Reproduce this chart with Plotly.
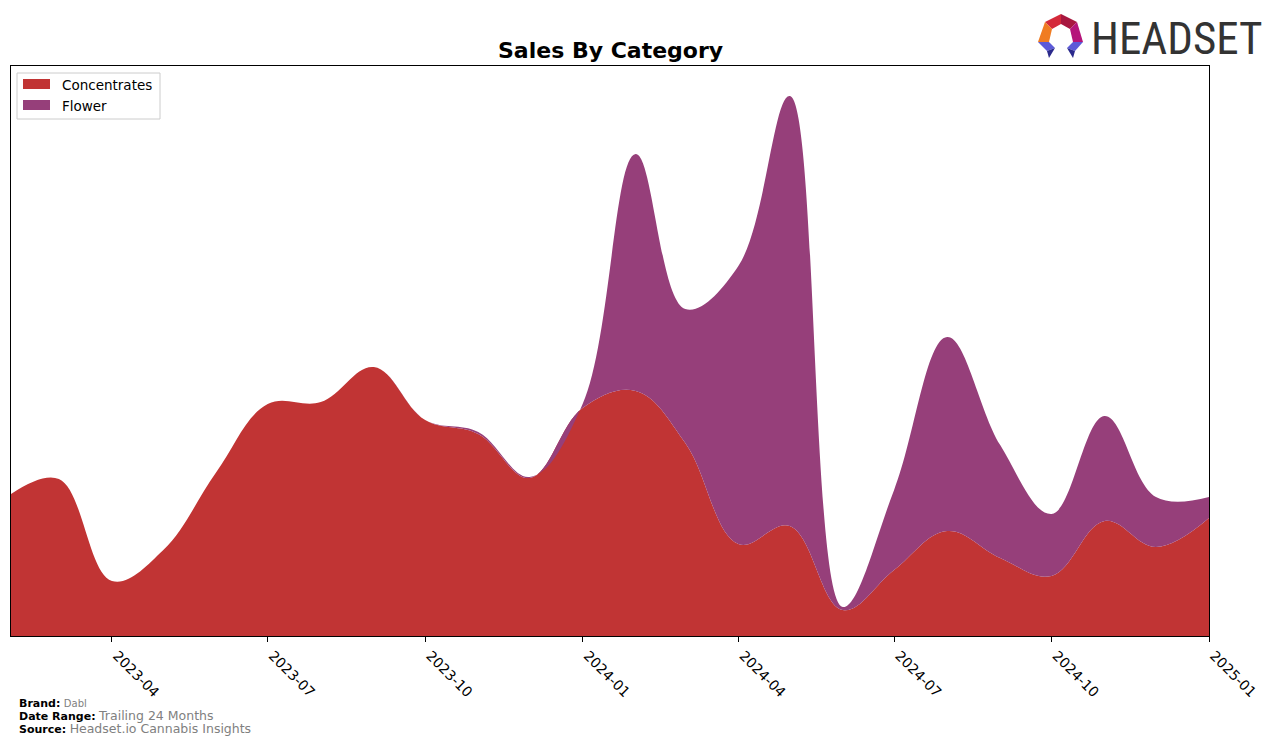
import plotly.graph_objects as go

months = ["2023-02-01", "2023-03-01", "2023-04-01", "2023-05-01", "2023-06-01", "2023-07-01",
          "2023-08-01", "2023-09-01", "2023-10-01", "2023-11-01", "2023-12-01", "2024-01-01",
          "2024-02-01", "2024-03-01", "2024-04-01", "2024-05-01", "2024-06-01", "2024-07-01",
          "2024-08-01", "2024-09-01", "2024-10-01", "2024-11-01", "2024-12-01", "2025-01-01"]
concentrates = [142, 157, 55, 86, 164, 232, 234, 269, 216, 202, 158, 228,
                245, 193, 92, 110, 26, 66, 105, 78, 60, 115, 89, 118]
flower = [0, 0, 0, 0, 0, 0, 0, 0, 0, 2, 1, 4,
          237, 134, 278, 430, 3, 80, 194, 113, 62, 105, 50, 21]
tick_vals = ["2023-04-01", "2023-07-01", "2023-10-01", "2024-01-01",
             "2024-04-01", "2024-07-01", "2024-10-01", "2025-01-01"]
tick_text = ["2023-04", "2023-07", "2023-10", "2024-01", "2024-04", "2024-07", "2024-10", "2025-01"]
series_names = ["Concentrates", "Flower"]

C_CONC = "#c13434"
C_FLOW = "#963f7a"

fig = go.Figure()
fig.add_trace(go.Scatter(x=months, y=concentrates, name=series_names[0], stackgroup="one",
                         mode="lines", line=dict(width=0, shape="spline", smoothing=1.1, color=C_CONC),
                         fillcolor=C_CONC, showlegend=False))
fig.add_trace(go.Scatter(x=months, y=flower, name=series_names[1], stackgroup="one",
                         mode="lines", line=dict(width=0, shape="spline", smoothing=1.1, color=C_FLOW),
                         fillcolor=C_FLOW, showlegend=False))

W, H = 1276, 744
L, R, T, B = 11, 1209, 66, 636


def px(x, y):
    return (x - L) / (R - L), (B - y) / (B - T)


def poly(points, color):
    pts = [px(x, y) for x, y in points]
    d = "M " + " L ".join(f"{a:.5f},{b:.5f}" for a, b in pts) + " Z"
    return dict(type="path", xref="paper", yref="paper", path=d,
                fillcolor=color, line=dict(width=0), layer="above")


def rect(x0, y0, x1, y1, fill, line_color=None, lw=0):
    a0, b0 = px(x0, y1)
    a1, b1 = px(x1, y0)
    return dict(type="rect", xref="paper", yref="paper", x0=a0, y0=b0, x1=a1, y1=b1,
                fillcolor=fill, line=dict(width=lw, color=line_color or fill), layer="above")


shapes = [
    # logo mark
    poly([(1045, 22), (1061, 14), (1061, 24), (1052, 29)], "#d42a3a"),
    poly([(1061, 14), (1077, 22), (1070, 29), (1061, 24)], "#a8173f"),
    poly([(1077, 22), (1083, 42), (1073, 42), (1070, 29)], "#b5157a"),
    poly([(1045, 22), (1052, 29), (1049, 42), (1038, 42)], "#f07c22"),
    poly([(1038, 42), (1049, 42), (1055, 48), (1047, 51)], "#5c5ad8"),
    poly([(1047, 51), (1055, 48), (1049, 58)], "#2b2a8c"),
    poly([(1083, 42), (1073, 42), (1067, 48), (1075, 51)], "#5c5ad8"),
    poly([(1075, 51), (1067, 48), (1073, 58)], "#2b2a8c"),
    # legend box and swatches
    rect(17, 73, 160, 119, "rgba(255,255,255,0.9)", "#cccccc", 1),
    rect(23, 79, 50, 89, C_CONC),
    rect(23, 100, 50, 110, C_FLOW),
]

annotations = [
    dict(text="<b>Sales By Category</b>", x=px(610, 0)[0], y=px(0, 51)[1],
         xref="paper", yref="paper", showarrow=False, xanchor="center", yanchor="middle",
         font=dict(family="DejaVu Sans", size=22, color="black")),
    dict(text="HEADSET", x=px(1089, 0)[0], y=px(0, 38)[1], xref="paper", yref="paper",
         showarrow=False, xanchor="left", yanchor="middle",
         font=dict(family="Liberation Sans Narrow, Roboto Condensed, DejaVu Sans Condensed, Roboto",
                   size=45, color="#333333")),
    dict(text=series_names[0], x=px(60, 0)[0], y=px(0, 85)[1], xref="paper", yref="paper",
         showarrow=False, xanchor="left", yanchor="middle",
         font=dict(family="DejaVu Sans", size=13.5, color="black")),
    dict(text=series_names[1], x=px(60, 0)[0], y=px(0, 106)[1], xref="paper", yref="paper",
         showarrow=False, xanchor="left", yanchor="middle",
         font=dict(family="DejaVu Sans", size=13.5, color="black")),
    dict(text="<b>Brand:</b> <span style='font-size:10px;color:#808080'>Dabl</span>",
         x=px(17, 0)[0], y=px(0, 703)[1], xref="paper", yref="paper", showarrow=False,
         xanchor="left", yanchor="middle", font=dict(family="DejaVu Sans", size=11, color="black")),
    dict(text="<b>Date Range:</b> <span style='font-size:12.5px;color:#808080'>Trailing 24 Months</span>",
         x=px(17, 0)[0], y=px(0, 715)[1], xref="paper", yref="paper", showarrow=False,
         xanchor="left", yanchor="middle", font=dict(family="DejaVu Sans", size=11, color="black")),
    dict(text="<b>Source:</b> <span style='font-size:12.5px;color:#808080'>Headset.io Cannabis Insights</span>",
         x=px(17, 0)[0], y=px(0, 728)[1], xref="paper", yref="paper", showarrow=False,
         xanchor="left", yanchor="middle", font=dict(family="DejaVu Sans", size=11, color="black")),
]

fig.update_layout(
    width=W, height=H,
    margin=dict(l=L, r=W - R, t=T, b=H - B),
    paper_bgcolor="white", plot_bgcolor="white",
    font=dict(family="DejaVu Sans", size=13, color="black"),
    showlegend=False,
    xaxis=dict(range=["2023-02-01", "2025-01-01"], tickmode="array", tickvals=tick_vals,
               ticktext=tick_text, tickangle=45, ticks="outside", ticklen=5, tickcolor="black",
               ticklabelshift=5, ticklabelstandoff=0,
               showgrid=False, zeroline=False, showline=True, linecolor="black", mirror=True,
               tickfont=dict(size=14)),
    yaxis=dict(range=[0, 570], showticklabels=False, ticks="", showgrid=False, zeroline=False,
               showline=True, linecolor="black", mirror=True),
    shapes=shapes,
    annotations=annotations,
)

fig.write_html("out.html")
